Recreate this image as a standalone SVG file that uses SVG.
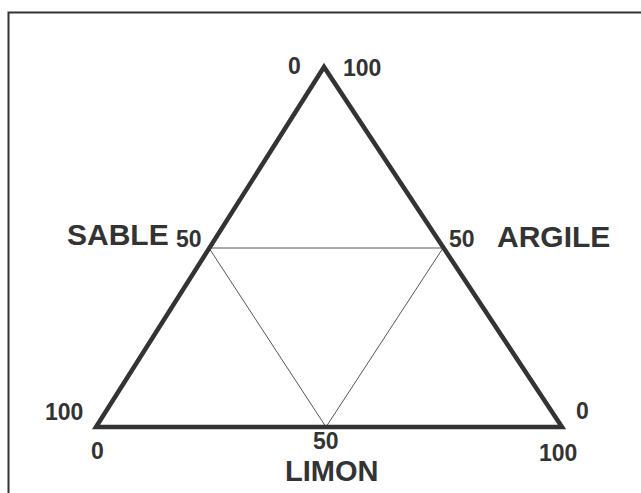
<svg xmlns="http://www.w3.org/2000/svg" width="641" height="493" viewBox="0 0 641 493">
<style>
.t{font-family:"Liberation Sans",Arial,sans-serif;font-weight:bold;fill:#333}
.n{font-size:23px}
.l{font-size:30px}
.thick{fill:none;stroke:#333;stroke-width:4.5;stroke-linejoin:miter}
.thin{fill:none;stroke:#444;stroke-width:0.9}
</style>
<rect x="0" y="0" width="641" height="493" fill="#fff"/>
<rect x="8.5" y="12.5" width="640" height="490" fill="none" stroke="#333" stroke-width="2"/>
<g id="connectors">
<polygon class="thin" points="209,248 443,248 326,427"/>
</g>
<g id="triangle">
<polygon class="thick" points="324,67 96,427 562,427"/>
</g>
<g id="labels">
<text class="t n" x="288" y="74">0</text>
<text class="t n" x="343" y="76">100</text>
<text class="t l" x="67" y="245">SABLE</text>
<text class="t n" x="176" y="247">50</text>
<text class="t n" x="449" y="247">50</text>
<text class="t l" x="497" y="247">ARGILE</text>
<text class="t n" x="45" y="420">100</text>
<text class="t n" x="91" y="459">0</text>
<text class="t n" x="313" y="449">50</text>
<text class="t" style="font-size:29px" x="285" y="481">LIMON</text>
<text class="t n" x="576" y="419">0</text>
<text class="t n" x="539" y="461">100</text>
</g>
</svg>
